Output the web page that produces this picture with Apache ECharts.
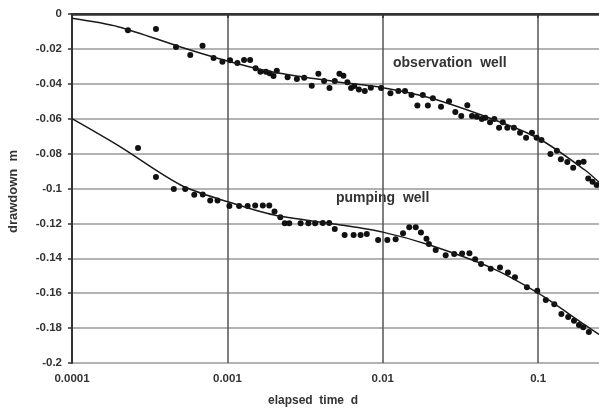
<!DOCTYPE html>
<html>
<head>
<meta charset="utf-8">
<title>drawdown</title>
<script src="https://cdn.jsdelivr.net/npm/echarts@6.0.0/dist/echarts.min.js"></script>
<style>
html, body { margin: 0; padding: 0; background: #fff; }
#chart { width: 599px; height: 408px; }
</style>
</head>
<body>
<div id="chart"></div>
<script>
// observation well - measured points (elapsed time d / drawdown m)
var obsTime = [2.29e-4, 3.47e-4, 4.67e-4, 5.77e-4, 6.92e-4, 8.15e-4, 9.29e-4, 1.04e-3, 1.16e-3, 1.28e-3,
    1.40e-3, 1.52e-3, 1.63e-3, 1.77e-3, 1.87e-3, 1.98e-3, 2.08e-3, 2.44e-3, 2.80e-3, 3.12e-3,
    3.49e-3, 3.85e-3, 4.19e-3, 4.54e-3, 4.91e-3, 5.26e-3, 5.58e-3, 5.92e-3, 6.25e-3, 6.56e-3,
    7.02e-3, 7.66e-3, 8.38e-3, 9.75e-3, 0.0112, 0.0126, 0.0139, 0.0153, 0.0167, 0.0181,
    0.0195, 0.0210, 0.0237, 0.0267, 0.0293, 0.0320, 0.0350, 0.0375, 0.0403, 0.0434,
    0.0457, 0.0490, 0.0522, 0.0560, 0.0592, 0.0633, 0.0698, 0.0764, 0.0836, 0.0912,
    0.0977, 0.105, 0.120, 0.132, 0.140, 0.154, 0.168, 0.182, 0.196, 0.210,
    0.224, 0.238];
var obsDrawdown = [-0.0093, -0.0086, -0.0189, -0.0235, -0.0182, -0.0252, -0.0273, -0.0265, -0.0281, -0.0264,
    -0.0264, -0.0311, -0.0331, -0.0331, -0.0340, -0.0355, -0.0325, -0.0363, -0.0372, -0.0365,
    -0.0411, -0.0342, -0.0384, -0.0424, -0.0384, -0.0342, -0.0354, -0.0391, -0.0424, -0.0413,
    -0.0432, -0.0441, -0.0422, -0.0424, -0.0454, -0.0441, -0.0441, -0.0464, -0.0525, -0.0464,
    -0.0525, -0.0483, -0.0531, -0.0500, -0.0562, -0.0585, -0.0523, -0.0585, -0.0589, -0.0602,
    -0.0594, -0.0621, -0.0602, -0.0652, -0.0621, -0.0652, -0.0652, -0.0680, -0.0709, -0.0680,
    -0.0709, -0.0722, -0.0802, -0.0783, -0.0833, -0.0848, -0.0881, -0.0852, -0.0846, -0.0942,
    -0.0961, -0.0980];

// pumping well - measured points
var pumpTime = [2.66e-4, 3.47e-4, 4.52e-4, 5.35e-4, 6.12e-4, 6.94e-4, 7.75e-4, 8.64e-4, 1.03e-3, 1.19e-3,
    1.35e-3, 1.51e-3, 1.69e-3, 1.86e-3, 2.01e-3, 2.19e-3, 2.34e-3, 2.50e-3, 2.96e-3, 3.32e-3,
    3.67e-3, 4.11e-3, 4.52e-3, 4.91e-3, 5.68e-3, 6.49e-3, 7.20e-3, 7.89e-3, 9.33e-3, 0.0107,
    0.0121, 0.0135, 0.0148, 0.0163, 0.0176, 0.0191, 0.0198, 0.0219, 0.0254, 0.0288,
    0.0324, 0.0361, 0.0393, 0.0429, 0.0495, 0.0568, 0.0639, 0.0709, 0.0847, 0.0987,
    0.112, 0.127, 0.141, 0.156, 0.170, 0.183, 0.195, 0.212];
var pumpDrawdown = [-0.0768, -0.0934, -0.1003, -0.1003, -0.1036, -0.1034, -0.1069, -0.1069, -0.1100, -0.1100,
    -0.1100, -0.1097, -0.1097, -0.1097, -0.1132, -0.1165, -0.1199, -0.1199, -0.1199, -0.1199,
    -0.1199, -0.1198, -0.1198, -0.1232, -0.1266, -0.1266, -0.1266, -0.1261, -0.1295, -0.1295,
    -0.1291, -0.1257, -0.1222, -0.1222, -0.1252, -0.1288, -0.1318, -0.1352, -0.1382, -0.1375,
    -0.1372, -0.1371, -0.1405, -0.1433, -0.1460, -0.1453, -0.1481, -0.1509, -0.1566, -0.1586,
    -0.1639, -0.1664, -0.1719, -0.1736, -0.1758, -0.1782, -0.1795, -0.1823];

// fitted curves
var fitTime = [0.0001, 0.0002, 0.0005, 0.001, 0.002, 0.005, 0.01, 0.02, 0.05, 0.1, 0.2, 0.25];
var obsFit = [-0.0025, -0.0074, -0.0189, -0.0269, -0.0334, -0.0388, -0.0422, -0.0480, -0.0600, -0.0712, -0.0894, -0.0970];
var pumpFit = [-0.0600, -0.0756, -0.0980, -0.1075, -0.1152, -0.1205, -0.1250, -0.1324, -0.1455, -0.1600, -0.1782, -0.1840];

var xTickLabels = ['0.0001', '0.001', '0.01', '0.1'];

function pairs(t, v) {
    var out = [];
    for (var i = 0; i < t.length; i++) {
        out.push([t[i], v[i]]);
    }
    return out;
}

var FONT = '"Liberation Sans", Arial, sans-serif';
var chart = echarts.init(document.getElementById('chart'));

var option = {
    backgroundColor: '#fff',
    animation: false,
    grid: { left: 72, right: -1, top: 14, bottom: 45, outerBoundsMode: 'none' },
    xAxis: [{
        type: 'log',
        logBase: 10,
        min: 0.0001,
        max: 0.25,
        position: 'bottom',
        name: 'elapsed  time  d',
        nameLocation: 'middle',
        nameGap: 32,
        // name sits a bit left of the axis centre
        nameTextStyle: { fontFamily: FONT, fontWeight: 'bold', fontSize: 12, color: '#333', padding: [0, 46, 0, 0] },
        axisLine: { show: true, lineStyle: { color: '#333', width: 2.5 } },
        axisTick: { show: true, length: 4, lineStyle: { color: '#333', width: 1.5 } },
        minorTick: { show: false },
        splitLine: { show: true, lineStyle: { color: '#555', width: 1.5 } },
        axisLabel: {
            showMaxLabel: false,
            margin: 10,
            fontFamily: FONT, fontWeight: 'bold', fontSize: 11.5, color: '#333',
            formatter: function (v) {
                var e = Math.log10(v);
                if (Math.abs(e - Math.round(e)) > 0.01) return '';
                return xTickLabels[Math.round(e) + 4] || '';
            }
        }
    }, {
        // top border line of the plot
        type: 'log',
        logBase: 10,
        min: 0.0001,
        max: 0.25,
        position: 'top',
        axisLine: { show: true, lineStyle: { color: '#333', width: 2 } },
        axisTick: { show: false },
        axisLabel: { show: false },
        splitLine: { show: false }
    }],
    yAxis: {
        type: 'value',
        min: -0.2,
        max: 0,
        interval: 0.02,
        name: 'drawdown  m',
        nameLocation: 'middle',
        nameGap: 52,
        nameTextStyle: { fontFamily: FONT, fontWeight: 'bold', fontSize: 13, color: '#333', padding: [0, 6, 0, 0] },
        axisLine: { show: true, lineStyle: { color: '#333', width: 2 } },
        axisTick: { show: true, length: 4, lineStyle: { color: '#333', width: 1.5 } },
        splitLine: { show: true, lineStyle: { color: '#999', width: 1.5 } },
        axisLabel: { margin: 10, fontFamily: FONT, fontWeight: 'bold', fontSize: 11.5, color: '#333' }
    },
    graphic: [
        { type: 'text', left: 393, top: 56, style: { text: 'observation  well', font: 'bold 14px ' + FONT, fill: '#333' } },
        { type: 'text', left: 336, top: 191, style: { text: 'pumping  well', font: 'bold 14px ' + FONT, fill: '#333' } }
    ],
    series: [
        {
            type: 'line', data: pairs(fitTime, obsFit), smooth: 0.3, showSymbol: false,
            lineStyle: { color: '#1a1a1a', width: 1.5 }, silent: true
        },
        {
            type: 'line', data: pairs(fitTime, pumpFit), smooth: 0.3, showSymbol: false,
            lineStyle: { color: '#1a1a1a', width: 1.5 }, silent: true
        },
        {
            type: 'scatter', data: pairs(obsTime, obsDrawdown), symbolSize: 6,
            itemStyle: { color: '#111', opacity: 1 }
        },
        {
            type: 'scatter', data: pairs(pumpTime, pumpDrawdown), symbolSize: 6,
            itemStyle: { color: '#111', opacity: 1 }
        }
    ]
};
chart.setOption(option);
</script>
</body>
</html>
